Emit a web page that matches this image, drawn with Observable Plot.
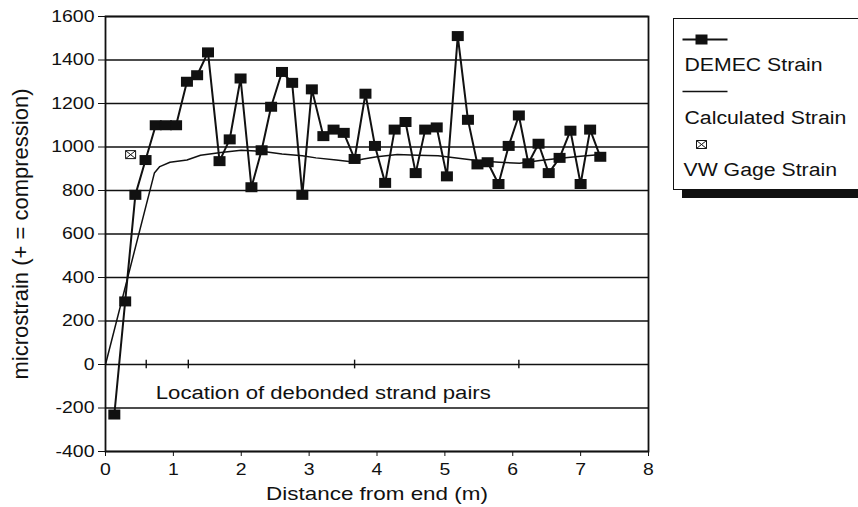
<!DOCTYPE html>
<html>
<head>
<meta charset="utf-8">
<script src="https://cdn.jsdelivr.net/npm/d3@7"></script>
<script src="https://cdn.jsdelivr.net/npm/@observablehq/plot@0.6"></script>
<style>
  html, body { margin: 0; padding: 0; background: #fff; }
  #wrap { position: relative; width: 858px; height: 507px; overflow: hidden; background: #fff; }
  #chart { position: absolute; left: 0; top: 0; }
  #legend { position: absolute; left: 673px; top: 18px; width: 200px; height: 170px;
            border: 1.5px solid #111; background: #fff; box-shadow: 9px 8px 0 0 #111; }
  #legend svg { position: absolute; left: 0; top: 0; overflow: visible; }
</style>
</head>
<body>
<div id="wrap">
  <div id="chart"></div>
  <div id="legend"></div>
</div>
<script>
// ---- data ----
const demecX = [0.13,0.29,0.44,0.59,0.74,0.89,1.04,1.20,1.35,1.51,1.68,1.83,1.99,2.15,2.30,2.44,2.60,2.75,2.90,3.04,3.21,3.36,3.51,3.67,3.83,3.97,4.12,4.26,4.42,4.57,4.71,4.88,5.03,5.19,5.34,5.48,5.63,5.79,5.94,6.09,6.23,6.38,6.53,6.69,6.85,7.00,7.14,7.29];
const demecStrain = [-230,290,780,940,1100,1100,1100,1300,1330,1435,935,1035,1315,815,985,1185,1345,1295,780,1265,1050,1080,1065,945,1245,1005,835,1080,1115,880,1080,1090,865,1510,1125,920,930,830,1005,1145,925,1015,880,950,1075,830,1080,955];
const calcX = [0,0.72,0.80,0.95,1.20,1.40,1.70,2.00,2.30,2.60,2.90,3.10,3.40,3.62,3.80,4.00,4.30,4.60,4.90,5.20,5.50,5.80,6.10,6.40,6.70,7.00,7.30];
const calcStrain = [0,880,910,930,940,962,975,985,980,968,960,950,940,932,945,955,965,962,960,948,937,930,925,938,948,958,965];
const vwX = [0.37];
const vwStrain = [965];
const debondedX = [0.6,1.22,3.67,6.09];
const xTicks = [0,1,2,3,4,5,6,7,8];
const yTicks = [-400,-200,0,200,400,600,800,1000,1200,1400,1600];
const seriesNames = ["DEMEC Strain","Calculated Strain","VW Gage Strain"];
const annotationText = "Location of debonded strand pairs";
const annotationPos = [0.74, -130];
const xLabel = "Distance from end (m)";
const yLabel = "microstrain (+ = compression)";

const demec = demecX.map((x, i) => ({x, y: demecStrain[i]}));
const calc = calcX.map((x, i) => ({x, y: calcStrain[i]}));
const vw = vwX.map((x, i) => ({x, y: vwStrain[i]}));

const ink = "#111";
const FONT = "'Liberation Sans', Arial, Helvetica, sans-serif";

const rectSymbol = { draw(ctx) { ctx.moveTo(-6,-5); ctx.lineTo(6,-5); ctx.lineTo(6,5); ctx.lineTo(-6,5); ctx.closePath(); } };
const xBoxSymbol = { draw(ctx) {
  ctx.moveTo(-5,-4); ctx.lineTo(5,-4); ctx.lineTo(5,4); ctx.lineTo(-5,4); ctx.closePath();
  ctx.moveTo(-5,-4); ctx.lineTo(5,4); ctx.moveTo(5,-4); ctx.lineTo(-5,4);
} };

const chart = Plot.plot({
  width: 858, height: 507,
  marginLeft: 105, marginRight: 210, marginTop: 16, marginBottom: 56,
  style: { fontFamily: FONT, fontSize: "16.5px", color: ink, background: "white", overflow: "visible" },
  x: { domain: [0, 8], ticks: xTicks, tickSize: 5, tickPadding: 7, tickFormat: d => String(d), label: null },
  y: { domain: [-400, 1600], ticks: yTicks, tickSize: 7, tickPadding: 4, tickFormat: d => String(d), label: null },
  marks: [
    Plot.ruleY(yTicks, { stroke: ink, strokeWidth: 1.6 }),
    Plot.frame({ stroke: ink, strokeWidth: 1.8 }),
    Plot.ruleX(debondedX, { x: d => d, y1: () => -20, y2: () => 20, stroke: ink, strokeWidth: 1.4 }),
    Plot.line(calc, { x: "x", y: "y", stroke: ink, strokeWidth: 1.5 }),
    Plot.line(demec, { x: "x", y: "y", stroke: ink, strokeWidth: 2 }),
    Plot.dot(demec, { x: "x", y: "y", symbol: rectSymbol, fill: ink, stroke: "none", r: 6 }),
    Plot.dot(vw, { x: "x", y: "y", symbol: xBoxSymbol, fill: "white", stroke: ink, strokeWidth: 1, r: 5 }),
    Plot.text([annotationText], { x: () => annotationPos[0], y: () => annotationPos[1], text: d => d, textAnchor: "start", fontSize: 18.8, fill: ink }),
    Plot.text([yLabel], { frameAnchor: "left", text: d => d, textAnchor: "middle", lineAnchor: "middle", dx: -85, rotate: -90, fontSize: 22, fill: ink }),
    Plot.text([xLabel], { frameAnchor: "bottom", text: d => d, lineAnchor: "middle", dy: 42, fontSize: 19, fill: ink })
  ]
});
document.getElementById("chart").appendChild(chart);

// ---- legend ----
const legendSvg = d3.select("#legend").append("svg").attr("width", 200).attr("height", 170)
  .style("font-family", FONT).style("font-size", "18px");
const lg = legendSvg.append("g").attr("transform", "translate(-1.5,-1.5)");
// DEMEC
lg.append("line").attr("x1", 10).attr("x2", 55).attr("y1", 22).attr("y2", 22).attr("stroke", ink).attr("stroke-width", 2);
lg.append("path").attr("transform", "translate(29,22)").attr("d", d3.symbol(rectSymbol)()).attr("fill", ink);
lg.append("text").attr("x", 12).attr("y", 53).attr("fill", ink).text(seriesNames[0]);
// Calculated
lg.append("line").attr("x1", 10).attr("x2", 55).attr("y1", 74).attr("y2", 74).attr("stroke", ink).attr("stroke-width", 1.5);
lg.append("text").attr("x", 12).attr("y", 106).attr("fill", ink).text(seriesNames[1]);
// VW
lg.append("path").attr("transform", "translate(29,127)").attr("d", d3.symbol(xBoxSymbol)()).attr("fill", "white").attr("stroke", ink).attr("stroke-width", 1);
lg.append("text").attr("x", 11).attr("y", 158).attr("fill", ink).text(seriesNames[2]);

// ---- horizontal widening of text to match the reference's wide lettering ----
const STRETCH = 1.18;
document.querySelectorAll("#wrap text").forEach(t => {
  if (t.textContent === yLabel) return; // rotated label: not widened
  const L = t.getComputedTextLength();
  if (L > 0) { t.setAttribute("textLength", (L * STRETCH).toFixed(1)); t.setAttribute("lengthAdjust", "spacingAndGlyphs"); }
});
</script>
</body>
</html>
